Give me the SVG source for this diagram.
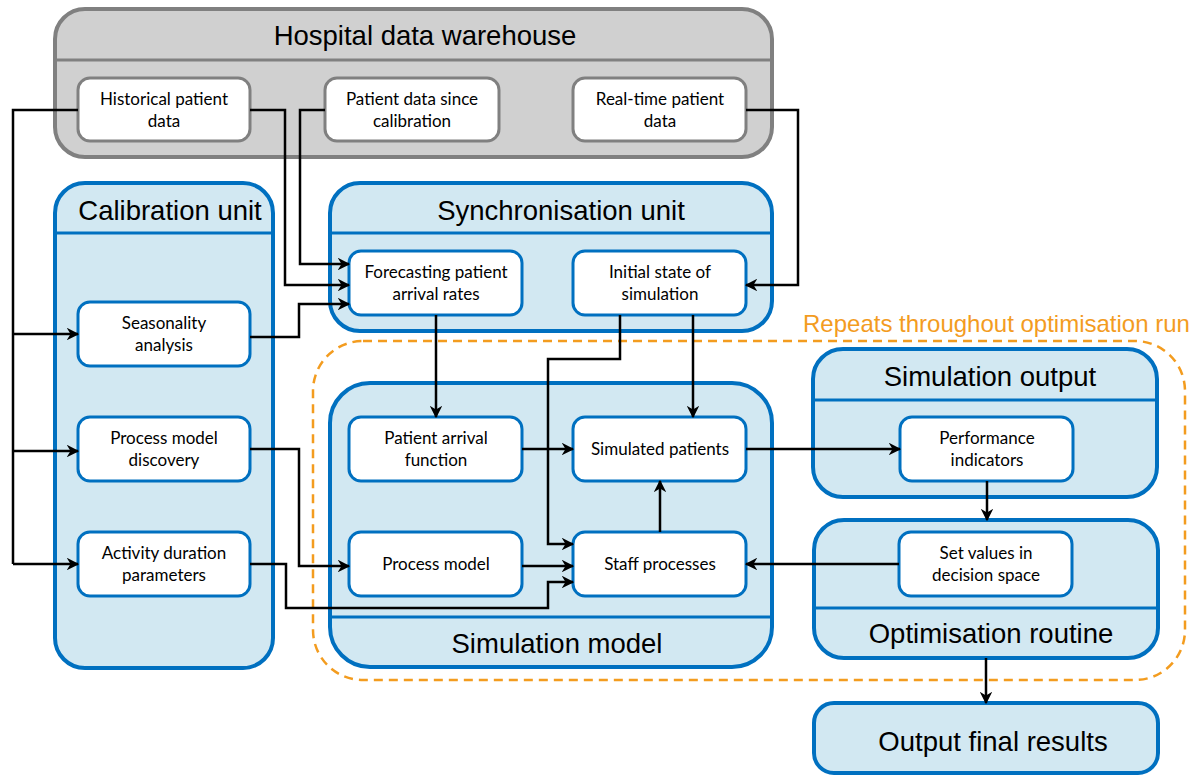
<svg xmlns="http://www.w3.org/2000/svg" width="1201" height="776" viewBox="0 0 1201 776">
<defs>
<marker id="ah" viewBox="0 0 10 10" refX="9" refY="5" markerWidth="5" markerHeight="5" orient="auto-start-reverse" markerUnits="strokeWidth">
<path d="M0,0 L10,5 L0,10 L3,5 Z" fill="#000"/>
</marker>
<style>
.gbox{fill:#d0d0d0;stroke:#808080;stroke-width:4}
.gsep{stroke:#808080;stroke-width:3}
.gnode{fill:#fff;stroke:#808080;stroke-width:3}
.bbox{fill:#d2e8f2;stroke:#0070c0;stroke-width:4}
.bsep{stroke:#0070c0;stroke-width:3}
.bnode{fill:#fff;stroke:#0070c0;stroke-width:3}
.title{font-family:"Liberation Sans",Arial,sans-serif;font-size:27.5px;fill:#000;text-anchor:middle}
.lbl{font-family:Lato,"Open Sans",sans-serif;font-size:17px;fill:#000;text-anchor:middle}
.rep{font-family:"Liberation Sans",Arial,sans-serif;font-size:24px;fill:#f39c1f}
.con{fill:none;stroke:#000;stroke-width:2.5;stroke-linejoin:miter}
.arr{marker-end:url(#ah)}
</style>
</defs>

<g id="warehouse">
<rect class="gbox" x="55" y="9" width="717" height="148" rx="30"/>
<line class="gsep" x1="55" y1="60" x2="772" y2="60"/>
<text class="title" x="425" y="45">Hospital data warehouse</text>
</g>
<g id="historical">
<rect class="gnode" x="78" y="78" width="172" height="63" rx="12"/>
<text class="lbl" x="164" y="105">Historical patient</text>
<text class="lbl" x="164" y="127">data</text>
</g>
<g id="sincecal">
<rect class="gnode" x="325" y="78" width="174" height="63" rx="12"/>
<text class="lbl" x="412" y="105">Patient data since</text>
<text class="lbl" x="412" y="127">calibration</text>
</g>
<g id="realtime">
<rect class="gnode" x="573" y="78" width="173" height="63" rx="12"/>
<text class="lbl" x="660" y="105">Real-time patient</text>
<text class="lbl" x="660" y="127">data</text>
</g>

<g id="calibration">
<rect class="bbox" x="55" y="183" width="218" height="485" rx="30"/>
<line class="bsep" x1="55" y1="233" x2="273" y2="233"/>
<text class="title" x="170" y="220">Calibration unit</text>
</g>
<g id="seasonality">
<rect class="bnode" x="78" y="302" width="172" height="64" rx="12"/>
<text class="lbl" x="164" y="329">Seasonality</text>
<text class="lbl" x="164" y="351">analysis</text>
</g>
<g id="pmdiscovery">
<rect class="bnode" x="78" y="417" width="172" height="64" rx="12"/>
<text class="lbl" x="164" y="444">Process model</text>
<text class="lbl" x="164" y="466">discovery</text>
</g>
<g id="activity">
<rect class="bnode" x="78" y="532" width="172" height="64" rx="12"/>
<text class="lbl" x="164" y="559">Activity duration</text>
<text class="lbl" x="164" y="581">parameters</text>
</g>

<g id="sync">
<rect class="bbox" x="330" y="183" width="442" height="148" rx="30"/>
<line class="bsep" x1="330" y1="233" x2="772" y2="233"/>
<text class="title" x="561" y="220">Synchronisation unit</text>
</g>
<g id="forecast">
<rect class="bnode" x="349" y="251" width="173" height="64" rx="12"/>
<text class="lbl" x="436" y="278">Forecasting patient</text>
<text class="lbl" x="436" y="300">arrival rates</text>
</g>
<g id="initstate">
<rect class="bnode" x="573" y="251" width="173" height="64" rx="12"/>
<text class="lbl" x="660" y="278">Initial state of</text>
<text class="lbl" x="660" y="300">simulation</text>
</g>

<g id="repeats">
<rect x="313" y="341" width="872" height="339" rx="50" fill="none" stroke="#f39c1f" stroke-width="2.5" stroke-dasharray="9,6"/>
<text class="rep" x="803" y="332">Repeats throughout optimisation run</text>
</g>

<g id="simmodel">
<rect class="bbox" x="330" y="383" width="442" height="284" rx="40"/>
<line class="bsep" x1="330" y1="617" x2="772" y2="617"/>
<text class="title" x="557" y="653">Simulation model</text>
</g>
<g id="arrivalfn">
<rect class="bnode" x="349" y="417" width="173" height="64" rx="12"/>
<text class="lbl" x="436" y="444">Patient arrival</text>
<text class="lbl" x="436" y="466">function</text>
</g>
<g id="simpatients">
<rect class="bnode" x="573" y="417" width="173" height="64" rx="12"/>
<text class="lbl" x="660" y="455">Simulated patients</text>
</g>
<g id="processmodel">
<rect class="bnode" x="349" y="532" width="173" height="64" rx="12"/>
<text class="lbl" x="436" y="570">Process model</text>
</g>
<g id="staff">
<rect class="bnode" x="573" y="532" width="173" height="64" rx="12"/>
<text class="lbl" x="660" y="570">Staff processes</text>
</g>

<g id="simoutput">
<rect class="bbox" x="813" y="349" width="344" height="148" rx="30"/>
<line class="bsep" x1="813" y1="400" x2="1157" y2="400"/>
<text class="title" x="990" y="386">Simulation output</text>
</g>
<g id="perf">
<rect class="bnode" x="900" y="417" width="173" height="64" rx="12"/>
<text class="lbl" x="987" y="444">Performance</text>
<text class="lbl" x="987" y="466">indicators</text>
</g>

<g id="optim">
<rect class="bbox" x="814" y="520" width="344" height="138" rx="30"/>
<line class="bsep" x1="814" y1="608" x2="1158" y2="608"/>
<text class="title" x="991" y="643">Optimisation routine</text>
</g>
<g id="setvalues">
<rect class="bnode" x="899" y="532" width="173" height="64" rx="12"/>
<text class="lbl" x="986" y="559">Set values in</text>
<text class="lbl" x="986" y="581">decision space</text>
</g>

<g id="final">
<rect class="bbox" x="814" y="703" width="344" height="70" rx="20"/>
<text class="title" x="993" y="751">Output final results</text>
</g>

<g id="connectors">
<path class="con" d="M78,110 H13 V564"/>
<path class="con arr" d="M13,334 H78"/>
<path class="con arr" d="M13,451 H78"/>
<path class="con arr" d="M13,564 H78"/>
<path class="con arr" d="M250,110 H285 V285 H349"/>
<path class="con arr" d="M325,110 H300 V264 H349"/>
<path class="con arr" d="M746,110 H798 V285 H746"/>
<path class="con arr" d="M250,337 H299 V304 H349"/>
<path class="con arr" d="M250,449 H299 V566 H349"/>
<path class="con arr" d="M250,564 H286 V608 H548 V582 H573"/>
<path class="con arr" d="M436,315 V417"/>
<path class="con arr" d="M620,315 V359 H548 V544 H573"/>
<path class="con arr" d="M693,315 V417"/>
<path class="con arr" d="M522,449 H573"/>
<path class="con arr" d="M522,566 H573"/>
<path class="con arr" d="M660,532 V481"/>
<path class="con arr" d="M746,449 H900"/>
<path class="con arr" d="M899,564 H746"/>
<path class="con arr" d="M987,481 V520"/>
<path class="con arr" d="M986,658 V703"/>
</g>
</svg>
